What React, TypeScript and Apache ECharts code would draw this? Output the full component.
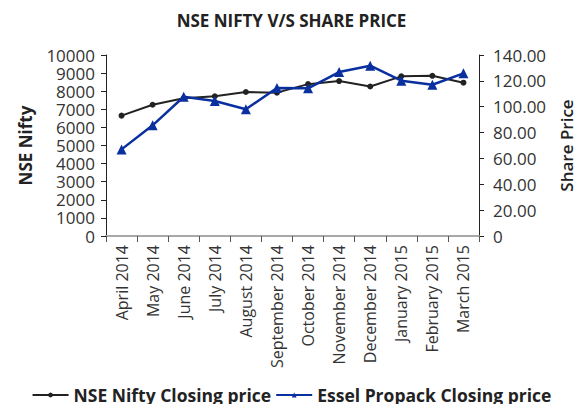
import React, { useEffect, useRef } from "react";
import * as echarts from "echarts";

const categories = [
  "April 2014", "May 2014", "June 2014", "July 2014", "August 2014", "September 2014",
  "October 2014", "November 2014", "December 2014", "January 2015", "February 2015", "March 2015",
];
const niftyClose = [6650, 7250, 7610, 7720, 7955, 7920, 8390, 8560, 8260, 8820, 8850, 8470];
const esselClose = [67.0, 85.6, 107.7, 104.4, 98.0, 114.5, 114.2, 126.8, 131.7, 120.1, 117.0, 125.8];

const FONT = "'Open Sans', 'Noto Sans', sans-serif";

export default function App() {
  const ref = useRef<HTMLDivElement>(null);
  useEffect(() => {
    if (!ref.current) return;
    const chart = echarts.init(ref.current, undefined, { renderer: "svg" });
    chart.setOption({
      animation: false,
      textStyle: { fontFamily: FONT },
      title: {
        text: "NSE NIFTY V/S SHARE PRICE",
        left: "center",
        top: 7,
        textStyle: { fontFamily: FONT, fontSize: 17, fontWeight: "bold", color: "#222" },
      },
      legend: {
        top: 381,
        left: "center",
        itemWidth: 36,
        itemHeight: 6,
        itemGap: 4,
        textStyle: { fontFamily: FONT, fontSize: 17.5, fontWeight: "bold", color: "#222", lineHeight: 18 },
        data: ["NSE Nifty Closing price", "Essel Propack Closing price"],
      },
      grid: { left: 106, right: 103, top: 55, bottom: 168 },
      xAxis: {
        type: "category",
        data: categories,
        boundaryGap: true,
        axisLine: { lineStyle: { color: "#a8a8a8", width: 2 } },
        axisTick: { show: true, alignWithLabel: false, length: 6, lineStyle: { color: "#555" } },
        axisLabel: { rotate: 90, interval: 0, fontSize: 16, color: "#333", fontFamily: FONT, margin: 9 },
      },
      yAxis: [
        {
          type: "value",
          min: 0,
          max: 10000,
          interval: 1000,
          name: "NSE Nifty",
          nameLocation: "middle",
          nameGap: 72,
          nameRotate: 90,
          nameTextStyle: { fontFamily: FONT, fontSize: 17, fontWeight: "bold", color: "#222" },
          axisLine: { show: true, lineStyle: { color: "#222" } },
          axisTick: { show: true, length: 5, lineStyle: { color: "#222" } },
          axisLabel: {
            fontSize: 17,
            lineHeight: 17,
            color: "#333",
            fontFamily: FONT,
            margin: 11,
            formatter: (v: number) => String(v),
          },
          splitLine: { show: false },
        },
        {
          type: "value",
          min: 0,
          max: 140,
          interval: 20,
          position: "right",
          name: "Share Price",
          nameLocation: "middle",
          nameGap: 79,
          nameRotate: 90,
          nameTextStyle: { fontFamily: FONT, fontSize: 17, fontWeight: 600, color: "#222" },
          axisLine: { show: true, lineStyle: { color: "#222" } },
          axisTick: { show: true, length: 5, lineStyle: { color: "#222" } },
          axisLabel: {
            fontSize: 17,
            lineHeight: 17,
            color: "#333",
            fontFamily: FONT,
            margin: 14,
            formatter: (v: number) => (v === 0 ? "0" : v.toFixed(2)),
          },
          splitLine: { show: false },
        },
      ],
      series: [
        {
          name: "NSE Nifty Closing price",
          type: "line",
          yAxisIndex: 0,
          data: niftyClose,
          color: "#222",
          lineStyle: { width: 2, color: "#222" },
          symbol: "circle",
          symbolSize: 6,
          itemStyle: { color: "#222" },
        },
        {
          name: "Essel Propack Closing price",
          type: "line",
          yAxisIndex: 1,
          data: esselClose,
          color: "#0a2f9e",
          lineStyle: { width: 2.5, color: "#0a2f9e" },
          symbol: "triangle",
          symbolSize: 10,
          itemStyle: { color: "#0a2f9e" },
        },
      ],
    });
    return () => chart.dispose();
  }, []);
  return <div ref={ref} style={{ width: 583, height: 404, position: "absolute", left: 0, top: 0 }} />;
}
